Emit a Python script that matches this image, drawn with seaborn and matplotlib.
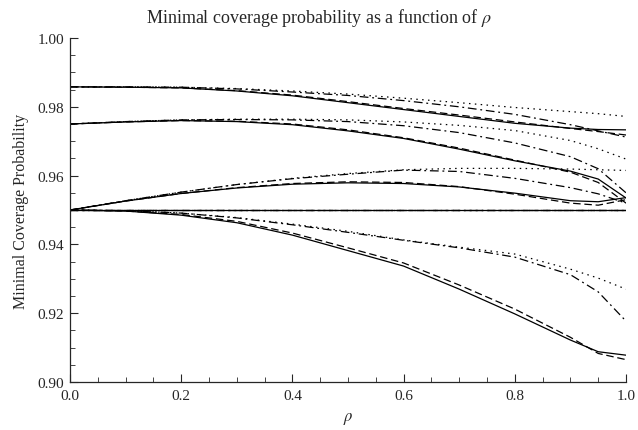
import numpy as np
import pandas as pd
import matplotlib
matplotlib.use("Agg")
import matplotlib.pyplot as plt
from matplotlib.ticker import MultipleLocator, FormatStrFormatter
import seaborn as sns

rho = [0.0, 0.1, 0.2, 0.3, 0.4, 0.5, 0.6, 0.7, 0.8, 0.9, 0.95, 1.0]

# group starting near 0.986
a_solid = [0.9858, 0.9857, 0.9855, 0.9846, 0.9832, 0.9812, 0.9792, 0.9772, 0.9752, 0.9738, 0.9734, 0.9733]
a_dashed = [0.9858, 0.9857, 0.9855, 0.9847, 0.9834, 0.9815, 0.9795, 0.9776, 0.9756, 0.9737, 0.9728, 0.9718]
a_dashdot = [0.9858, 0.9858, 0.9857, 0.9852, 0.9843, 0.9833, 0.9818, 0.9800, 0.9778, 0.9748, 0.9730, 0.9712]
a_dotted = [0.9858, 0.9858, 0.9857, 0.9853, 0.9846, 0.9837, 0.9825, 0.9812, 0.9798, 0.9786, 0.9780, 0.9772]

# group starting at 0.975
b_solid = [0.9750, 0.9756, 0.9760, 0.9757, 0.9748, 0.9730, 0.9708, 0.9677, 0.9643, 0.9613, 0.9590, 0.9535]
b_dashed = [0.9750, 0.9756, 0.9760, 0.9758, 0.9750, 0.9733, 0.9710, 0.9680, 0.9645, 0.9610, 0.9580, 0.9520]
b_dashdot = [0.9750, 0.9757, 0.9762, 0.9763, 0.9762, 0.9757, 0.9745, 0.9725, 0.9695, 0.9655, 0.9620, 0.9550]
b_dotted = [0.9750, 0.9757, 0.9762, 0.9764, 0.9764, 0.9762, 0.9756, 0.9746, 0.9731, 0.9702, 0.9678, 0.9648]

# group rising from 0.95
c_solid = [0.9500, 0.9526, 0.9548, 0.9564, 0.9575, 0.9579, 0.9577, 0.9567, 0.9549, 0.9527, 0.9524, 0.9536]
c_dashed = [0.9500, 0.9526, 0.9548, 0.9565, 0.9577, 0.9582, 0.9580, 0.9568, 0.9546, 0.9520, 0.9514, 0.9530]
c_dashdot = [0.9500, 0.9527, 0.9552, 0.9574, 0.9591, 0.9604, 0.9616, 0.9612, 0.9592, 0.9565, 0.9547, 0.9520]
c_dotted = [0.9500, 0.9527, 0.9552, 0.9574, 0.9592, 0.9606, 0.9617, 0.9621, 0.9621, 0.9619, 0.9617, 0.9615]

# flat group
d_all = [0.95] * len(rho)

# group falling from 0.95
e_solid = [0.9500, 0.9497, 0.9485, 0.9463, 0.9427, 0.9382, 0.9337, 0.9270, 0.9198, 0.9122, 0.9088, 0.9078]
e_dashed = [0.9500, 0.9497, 0.9487, 0.9467, 0.9433, 0.9390, 0.9346, 0.9282, 0.9212, 0.9130, 0.9083, 0.9065]
e_dashdot = [0.9500, 0.9498, 0.9491, 0.9477, 0.9457, 0.9435, 0.9412, 0.9390, 0.9363, 0.9312, 0.9262, 0.9177]
e_dotted = [0.9500, 0.9498, 0.9491, 0.9478, 0.9459, 0.9438, 0.9413, 0.9392, 0.9372, 0.9328, 0.9302, 0.9270]

curves = {
    ("a", "solid"): a_solid, ("a", "dashed"): a_dashed,
    ("a", "dashdot"): a_dashdot, ("a", "dotted"): a_dotted,
    ("b", "solid"): b_solid, ("b", "dashed"): b_dashed,
    ("b", "dashdot"): b_dashdot, ("b", "dotted"): b_dotted,
    ("c", "solid"): c_solid, ("c", "dashed"): c_dashed,
    ("c", "dashdot"): c_dashdot, ("c", "dotted"): c_dotted,
    ("d", "solid"): d_all, ("d", "dashed"): d_all,
    ("d", "dashdot"): d_all, ("d", "dotted"): d_all,
    ("e", "solid"): e_solid, ("e", "dashed"): e_dashed,
    ("e", "dashdot"): e_dashdot, ("e", "dotted"): e_dotted,
}

rows = []
for (grp, st), vals in curves.items():
    for r, v in zip(rho, vals):
        rows.append({"rho": r, "prob": v, "curve": grp + "_" + st, "style": st})
df = pd.DataFrame(rows)

sns.set_style("ticks")
plt.rcParams["font.family"] = ["Liberation Serif", "DejaVu Serif"]
plt.rcParams["mathtext.fontset"] = "stix"

fig = plt.figure(figsize=(6.38, 4.31), dpi=100)
ax = fig.add_axes([70 / 638, 48 / 431, 556 / 638, 344 / 431])

dashes = {
    "solid": "",
    "dashed": (6, 3),
    "dashdot": (7, 3, 1.5, 3),
    "dotted": (1.2, 3.5),
}
sns.lineplot(data=df, x="rho", y="prob", units="curve", style="style",
             dashes=dashes, estimator=None, color="black", linewidth=0.9,
             legend=False, ax=ax)

ax.set_xlim(0, 1)
ax.set_ylim(0.90, 1.00)
ax.xaxis.set_major_locator(MultipleLocator(0.2))
ax.xaxis.set_minor_locator(MultipleLocator(0.05))
ax.yaxis.set_major_locator(MultipleLocator(0.02))
ax.yaxis.set_minor_locator(MultipleLocator(0.005))
ax.xaxis.set_major_formatter(FormatStrFormatter("%.1f"))
ax.yaxis.set_major_formatter(FormatStrFormatter("%.2f"))
ax.tick_params(which="major", direction="in", length=6, width=0.8, labelsize=11)
ax.tick_params(which="minor", direction="in", length=3.5, width=0.6)
ax.tick_params(axis="x", which="major", pad=5)
ax.tick_params(axis="y", which="major", pad=4)
sns.despine(ax=ax)
for sp in ["left", "bottom"]:
    ax.spines[sp].set_linewidth(0.9)

ax.set_xlabel(r"$\rho$", fontsize=12, labelpad=6)
ax.set_ylabel("Minimal Coverage Probability", fontsize=11.5, labelpad=6)
fig.text(0.5, 1 - 18 / 431, r"Minimal coverage probability as a function of $\rho$",
         ha="center", va="center", fontsize=13)

fig.savefig("out.png", dpi=100)
